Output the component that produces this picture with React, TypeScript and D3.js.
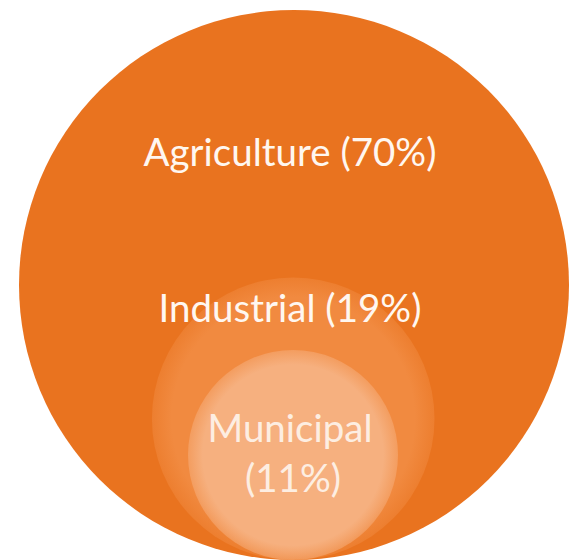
import React, { useEffect, useRef } from 'react';
import * as d3 from 'd3';

// shares of water withdrawal, drawn as nested circles touching at the bottom
const categories = ['Agriculture', 'Industrial', 'Municipal'];
const shares = [70, 19, 11];
const labelLines = [['Agriculture (70%)'], ['Industrial (19%)'], ['Municipal', '(11%)']];
const fills = ['#e9731f', '#f18a40', '#f6b07f'];

const App = () => {
  const svgRef = useRef<SVGSVGElement>(null);

  useEffect(() => {
    const svg = d3.select(svgRef.current);
    svg.selectAll('*').remove();

    // cumulative share: each circle holds its own share plus the smaller ones inside it
    const cumulative = shares.map((_, i) => d3.sum(shares.slice(i)));
    const r = d3.scaleLinear().domain([11, 100]).range([105, 275]);
    const cx = d3.scaleLinear().domain([11, 100]).range([293, 294]);
    const bottom = 560;

    const defs = svg.append('defs');
    fills.forEach((c, i) => {
      const g = defs.append('radialGradient').attr('id', `fade${i}`);
      g.append('stop').attr('offset', '0%').attr('stop-color', c);
      g.append('stop').attr('offset', i === 0 ? '100%' : '86%').attr('stop-color', c);
      g.append('stop').attr('offset', '100%').attr('stop-color', c).attr('stop-opacity', i === 0 ? 1 : 0.5);
    });

    svg.selectAll('.bubble')
      .data(cumulative)
      .enter()
      .append('circle')
      .attr('class', 'bubble')
      .attr('cx', d => cx(d))
      .attr('cy', d => bottom - r(d))
      .attr('r', d => r(d))
      .attr('fill', (d, i) => `url(#fade${i})`);

    // label positions (baseline of first line)
    const labelY = [166, 322, 442];
    const lineGap = 50;

    categories.forEach((name, i) => {
      const t = svg.append('text')
        .attr('text-anchor', 'middle')
        .attr('font-family', 'Lato, "Open Sans", sans-serif')
        .attr('font-size', 38.5)
        .attr('fill', i === 2 ? '#fdeee2' : '#fff7f0');
      labelLines[i].forEach((line, j) => {
        t.append('tspan')
          .attr('x', j === 1 ? 293 : 290)
          .attr('y', labelY[i] + j * lineGap)
          .text(line);
      });
    });
  }, []);

  return (
    <svg
      ref={svgRef}
      width={571}
      height={560}
      style={{ position: 'absolute', left: 0, top: 0, display: 'block' }}
    ></svg>
  );
};

export default App;
